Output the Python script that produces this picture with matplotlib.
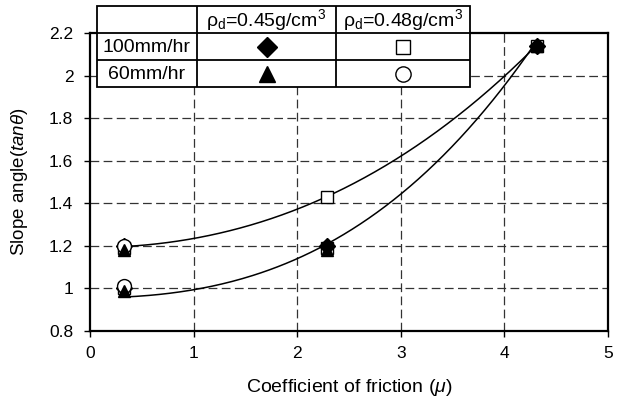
import matplotlib
matplotlib.use("Agg")
import matplotlib.pyplot as plt
import numpy as np

plt.rcParams["font.family"] = ["Liberation Sans", "DejaVu Sans"]
plt.rcParams["mathtext.fontset"] = "custom"
plt.rcParams["mathtext.rm"] = "Liberation Sans"
plt.rcParams["mathtext.it"] = "Liberation Sans:italic"

# ---- data -----------------------------------------------------------------
# markers: (0.45, 100mm/hr) diamond, (0.48, 100mm/hr) square,
#          (0.45, 60mm/hr) triangle, (0.48, 60mm/hr) circle
mu_dia = [0.33, 0.33, 2.29, 4.31]
tan_dia = [1.20, 1.00, 1.20, 2.14]
mu_sq = [0.33, 0.33, 2.29, 2.29, 4.31]
tan_sq = [1.19, 1.00, 1.43, 1.19, 2.14]
mu_tri = [0.33, 0.33, 2.29, 4.31]
tan_tri = [1.18, 0.99, 1.18, 2.14]
mu_cir = [0.33, 0.33]
tan_cir = [1.20, 1.01]

# trend curves
trend_up_mu = [0.33, 1.0, 2.0, 2.29, 3.0, 4.0, 4.31]
trend_up_tan = [1.19, 1.244, 1.372, 1.43, 1.62, 2.00, 2.14]
trend_lo_mu = [0.33, 1.0, 2.0, 2.29, 3.0, 4.0, 4.31]
trend_lo_tan = [0.97, 0.99, 1.14, 1.19, 1.45, 1.98, 2.14]

row_labels = ["100mm/hr", "60mm/hr"]
col_labels = ["ρ$_\\mathrm{d}$=0.45g/cm$^3$", "ρ$_\\mathrm{d}$=0.48g/cm$^3$"]


def trend(x, y, n=200):
    """least-squares fit y = c0 + c2*x^2 + c3*x^3 (flat at the left end)"""
    x = np.asarray(x, float)
    A = np.column_stack([np.ones_like(x), x ** 2, x ** 3])
    c, *_ = np.linalg.lstsq(A, np.asarray(y, float), rcond=None)
    xx = np.linspace(x.min(), x.max(), n)
    return xx, c[0] + c[1] * xx ** 2 + c[2] * xx ** 3


W, H = 622, 405
fig = plt.figure(figsize=(W / 100, H / 100), dpi=100)
ax = fig.add_axes([90 / W, 1 - 331 / H, (608 - 90) / W, (331 - 33) / H])

grid_kw = dict(color="#333333", lw=0.9, dashes=(7, 3.5), zorder=1)
ax.set_xlim(0, 5)
ax.set_ylim(0.8, 2.2)
ax.set_xticks(np.arange(0, 6, 1))
ax.set_yticks(np.round(np.arange(0.8, 2.21, 0.2), 1))
ax.set_yticklabels(["0.8", "1", "1.2", "1.4", "1.6", "1.8", "2", "2.2"])
for v in range(1, 5):
    ax.axvline(v, **grid_kw)
for v in np.arange(1.0, 2.19, 0.2):
    ax.axhline(v, **grid_kw)
ax.tick_params(direction="out", length=4, width=1, labelsize=12.5, pad=8)
ax.tick_params(axis="x", pad=7)
for s in ax.spines.values():
    s.set_linewidth(1.6)

for tx, ty in [(trend_up_mu, trend_up_tan), (trend_lo_mu, trend_lo_tan)]:
    xx, yy = trend(tx, ty)
    ax.plot(xx, yy, color="black", lw=1.1, zorder=2)

mk = dict(ls="none", zorder=3)
ax.plot(mu_sq, tan_sq, marker="s", ms=9, mfc="white", mec="black", mew=1, **mk)
ax.plot(mu_dia, tan_dia, marker="D", ms=8, mfc="black", mec="black", **mk)
ax.plot(mu_cir, tan_cir, marker="o", ms=10, mfc="white", mec="black", mew=1, **mk)
ax.plot(mu_tri, tan_tri, marker="^", ms=9, mfc="black", mec="black", **mk)

ax.set_xlabel("Coefficient of friction ($\\mu$)", fontsize=14, labelpad=11)
ax.set_ylabel("Slope angle($\\mathit{tan\\theta}$)", fontsize=13.5, labelpad=14)

# ---- table-like legend ------------------------------------------------------
tl, tr, tt, tb = 97, 470, 6, 87
tax = fig.add_axes([tl / W, 1 - tb / H, (tr - tl) / W, (tb - tt) / H])
tax.set_xlim(tl, tr)
tax.set_ylim(tb, tt)
tax.axis("off")
tax.add_patch(plt.Rectangle((tl, tt), tr - tl, tb - tt, facecolor="white",
                            edgecolor="black", lw=1.3, clip_on=False))
cols = [tl, 197, 336, tr]
rows = [tt, 33, 60, tb]
for x in cols[1:-1]:
    tax.plot([x, x], [tt, tb], color="black", lw=1.3)
for y in rows[1:-1]:
    tax.plot([tl, tr], [y, y], color="black", lw=1.3)

for j, lab in enumerate(col_labels):
    tax.text((cols[j + 1] + cols[j + 2]) / 2, (rows[0] + rows[1]) / 2 + 1, lab,
             ha="center", va="center", fontsize=14)
for i, lab in enumerate(row_labels):
    tax.text((cols[0] + cols[1]) / 2, (rows[i + 1] + rows[i + 2]) / 2 + 1, lab,
             ha="center", va="center", fontsize=14)

cell_markers = [[("D", "black", 10), ("s", "white", 10)],
                [("^", "black", 11), ("o", "white", 11)]]
for i in range(2):
    for j in range(2):
        m, fc, ms = cell_markers[i][j]
        tax.plot((cols[j + 1] + cols[j + 2]) / 2, (rows[i + 1] + rows[i + 2]) / 2,
                 marker=m, ms=ms, mfc=fc, mec="black", mew=1, clip_on=False)

fig.savefig("out.png", dpi=100)
